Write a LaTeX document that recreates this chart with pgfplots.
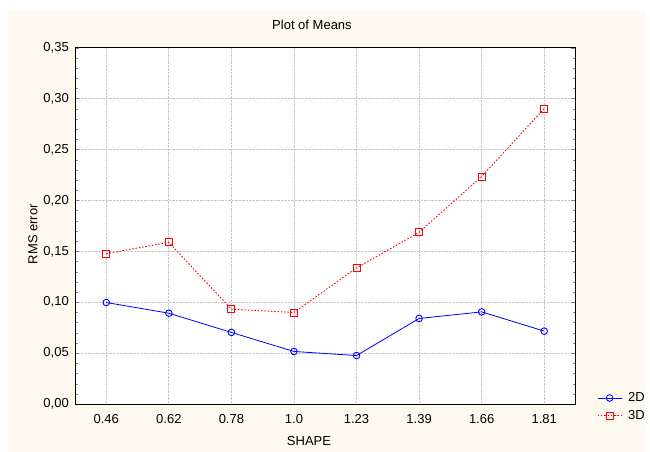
\documentclass[border=0pt]{standalone}
\usepackage{fontspec}
\setmainfont{Liberation Sans}
\usepackage{pgfplots}
\pgfplotsset{compat=1.18}
\definecolor{cream}{RGB}{254,250,239}
\definecolor{gridgray}{RGB}{200,200,200}
\begin{document}
\begin{tikzpicture}[x=1pt,y=1pt]
\useasboundingbox (0,0) rectangle (650,452);
\fill[white] (0,0) rectangle (650,452);
\fill[cream] (8,0) rectangle (645,442);
\begin{axis}[
  at={(75pt,48pt)}, anchor=south west,
  scale only axis, width=500.5pt, height=356.3pt,
  axis background/.style={fill=white},
  font=\fontsize{13pt}{15pt}\selectfont,
  xmin=-0.5, xmax=7.5, ymin=0, ymax=0.35,
  xtick={0,...,7},
  xticklabels={0.46,0.62,0.78,1.0,1.23,1.39,1.66,1.81},
  ytick={0,0.05,0.1,0.15,0.2,0.25,0.3,0.35},
  minor y tick num=4,
  yticklabel style={/pgf/number format/fixed, /pgf/number format/fixed zerofill, /pgf/number format/precision=2, /pgf/number format/use comma, /pgf/number format/assume math mode=true, inner sep=0pt, xshift=-6pt},
  xticklabel style={inner sep=0pt, yshift=-10pt},
  scaled y ticks=false,
  tick align=inside,
  major tick length=4pt, minor tick length=2.5pt,
  x tick style={draw=none},
  grid=major,
  major grid style={gridgray, densely dotted, line width=0.7pt},
  axis line style={line width=0.9pt},
  title={Plot of Means},
  title style={at={(0.4735,1)}, anchor=center, yshift=16.7pt, inner sep=0pt},
  xlabel={SHAPE},
  xlabel style={at={(0.4675,0)}, anchor=center, yshift=-36.7pt, inner sep=0pt},
  ylabel={RMS error},
  ylabel style={at={(-0.0839,0.4766)}, anchor=center, inner sep=0pt},
  legend style={at={(1.043,0.035)}, anchor=north west, draw=none, fill=none, inner sep=0pt,
    row sep=5pt, column sep=5pt, nodes={inner sep=1pt, anchor=west}},
  legend cell align=left,
  legend image code/.code={\draw[mark repeat=2,mark phase=2,#1] plot coordinates {(0pt,0pt) (12pt,0pt) (24pt,0pt)};},
]
\addplot[blue, line width=0.8pt, mark=o, mark size=3.3pt, mark options={solid, fill=white, line width=0.9pt}]
coordinates {(0,0.0997) (1,0.0892) (2,0.0703) (3,0.0516) (4,0.0476) (5,0.0840) (6,0.0905) (7,0.0716)};
\addlegendentry{2D}
\addplot[red, line width=0.9pt, dash pattern=on 1.5pt off 1.8pt, mark=square, mark size=3.5pt, mark options={solid, fill=white, line width=0.9pt}]
coordinates {(0,0.1477) (1,0.1588) (2,0.0931) (3,0.0899) (4,0.1337) (5,0.1686) (6,0.2235) (7,0.2902)};
\addlegendentry{3D}
\end{axis}
\end{tikzpicture}
\end{document}
